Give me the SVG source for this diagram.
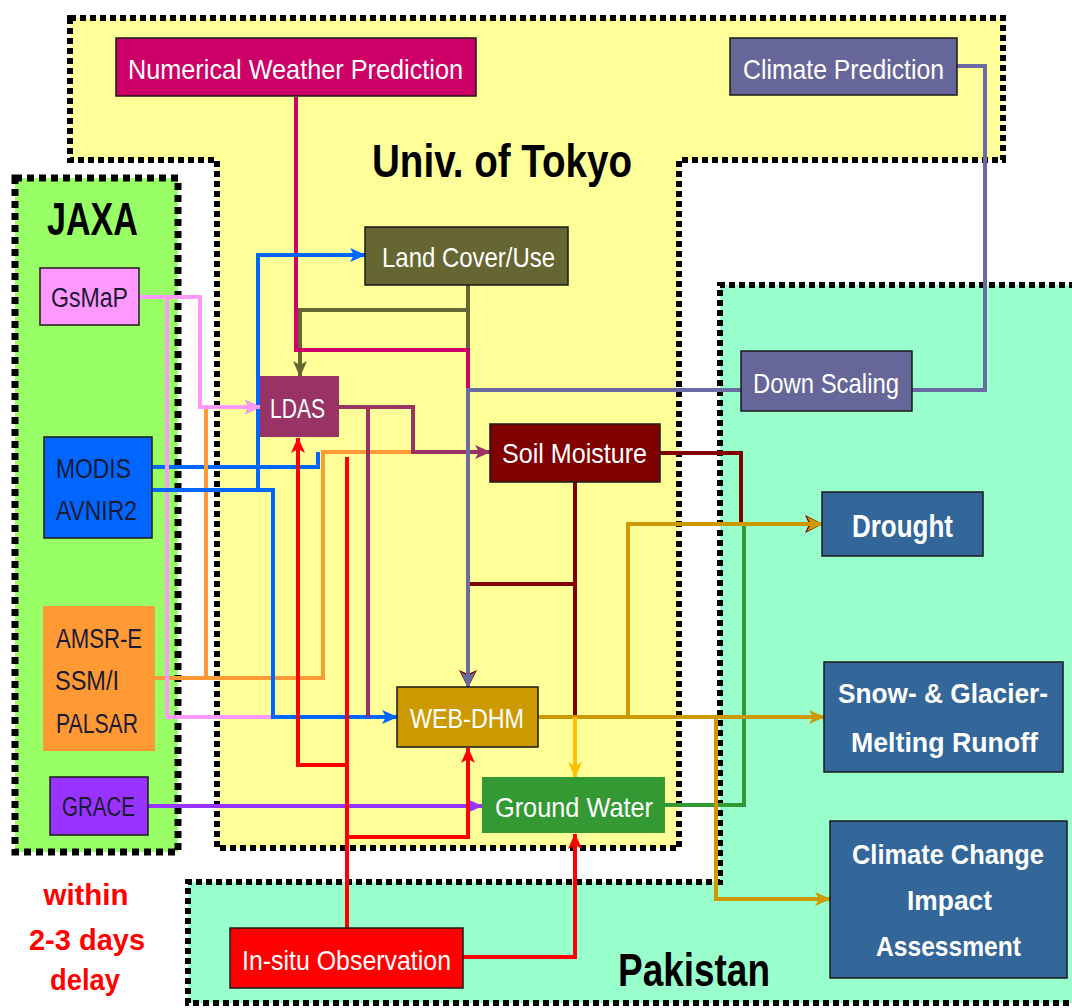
<svg xmlns="http://www.w3.org/2000/svg" width="1072" height="1008" viewBox="0 0 1072 1008">
<style>
.region{stroke:#000;stroke-width:6;stroke-dasharray:6 4;}
.box{stroke:#1a1a1a;stroke-width:1.5;}
.nb{stroke:none;}
.t{font-family:"Liberation Sans",Arial,sans-serif;font-size:28px;fill:#fff;}
.d{fill:#1a1a33;font-size:27px;}
.b{font-weight:bold;}
.title{font-family:"Liberation Sans",Arial,sans-serif;font-weight:bold;font-size:46px;fill:#000;}
.red{font-family:"Liberation Sans",Arial,sans-serif;font-weight:bold;font-size:30px;fill:#ff0000;text-anchor:middle;}
.c{fill:none;stroke-width:4;stroke-linejoin:miter;stroke-linecap:butt;}
</style>
<defs>
<marker id="aBlue" markerUnits="userSpaceOnUse" markerWidth="16" markerHeight="16" refX="15" refY="8" orient="auto"><path d="M0,1 L16,8 L0,15 L4,8 z" fill="#0066ff"/></marker>
<marker id="aPink" markerUnits="userSpaceOnUse" markerWidth="16" markerHeight="16" refX="15" refY="8" orient="auto"><path d="M0,1 L16,8 L0,15 L4,8 z" fill="#ff99ff"/></marker>
<marker id="aOlive" markerUnits="userSpaceOnUse" markerWidth="16" markerHeight="16" refX="15" refY="8" orient="auto"><path d="M0,1 L16,8 L0,15 L4,8 z" fill="#666633"/></marker>
<marker id="aGrey" markerUnits="userSpaceOnUse" markerWidth="16" markerHeight="16" refX="15" refY="8" orient="auto"><path d="M0,1 L16,8 L0,15 L4,8 z" fill="#6b6ba3"/></marker>
<marker id="aDark" markerUnits="userSpaceOnUse" markerWidth="18" markerHeight="18" refX="17" refY="9" orient="auto"><path d="M0,0 L18,9 L0,18 L4,9 z" fill="#800000"/></marker>
<marker id="aGold" markerUnits="userSpaceOnUse" markerWidth="16" markerHeight="16" refX="15" refY="8" orient="auto"><path d="M0,1 L16,8 L0,15 L4,8 z" fill="#cc9900"/></marker>
<marker id="aYel" markerUnits="userSpaceOnUse" markerWidth="16" markerHeight="16" refX="15" refY="8" orient="auto"><path d="M0,1 L16,8 L0,15 L4,8 z" fill="#ffc000"/></marker>
<marker id="aRed" markerUnits="userSpaceOnUse" markerWidth="16" markerHeight="16" refX="15" refY="8" orient="auto"><path d="M0,1 L16,8 L0,15 L4,8 z" fill="#ff0000"/></marker>
<marker id="aPurp" markerUnits="userSpaceOnUse" markerWidth="16" markerHeight="16" refX="15" refY="8" orient="auto"><path d="M0,1 L16,8 L0,15 L4,8 z" fill="#993366"/></marker>
<marker id="aViol" markerUnits="userSpaceOnUse" markerWidth="16" markerHeight="16" refX="15" refY="8" orient="auto"><path d="M0,1 L16,8 L0,15 L4,8 z" fill="#9933ff"/></marker>
</defs>
<rect width="1072" height="1008" fill="#fff"/>

<g id="regions">
<g id="tokyo">
<path d="M70,18 H1003 V160 H679 V848 H217 V160 H70 Z" fill="#ffff99" class="region"/>
<text class="title" x="372" y="177" textLength="260" lengthAdjust="spacingAndGlyphs">Univ. of Tokyo</text>
</g>
<g id="pakistan">
<path d="M1075,285 H720 V882 H188 V1003 H1075 Z" fill="#99ffcc" stroke="none"/>
<path d="M1075,285 H720 V882 H188 V1003 H1075" fill="none" class="region"/>
<text class="title" x="618" y="986" textLength="152" lengthAdjust="spacingAndGlyphs">Pakistan</text>
</g>
<g id="jaxa">
<rect x="15" y="178" width="163" height="674" fill="#99ff66" stroke="#000" stroke-width="7" stroke-dasharray="7 5"/>
<text class="title" x="47" y="235" textLength="91" lengthAdjust="spacingAndGlyphs">JAXA</text>
</g>
</g>

<g id="connectors">
<path class="c" stroke="#666633" d="M468,285 V350 M468,310 H300 V376" marker-end="url(#aOlive)"/>
<path class="c" stroke="#cc0066" d="M296,97 V350 H468 V390"/>
<path class="c" stroke="#6b6ba3" d="M957,66 H985 V390 H912"/>
<path class="c" stroke="#800000" stroke-width="3.5" d="M575,482 V716"/>
<path class="c" stroke="#800000" stroke-width="3.5" d="M575,584 H468 V687" marker-end="url(#aDark)"/>
<path class="c" stroke="#800000" stroke-width="3.5" d="M660,453 H741 V524 H822" marker-end="url(#aDark)"/>
<path class="c" stroke="#339933" d="M665,805 H744 V526"/>
<path class="c" stroke="#cc9900" d="M538,717 H824" marker-end="url(#aGold)"/>
<path class="c" stroke="#cc9900" d="M628,717 V524 H822" marker-end="url(#aGold)"/>
<path class="c" stroke="#cc9900" d="M716,717 V899 H830" marker-end="url(#aGold)"/>
<path class="c" stroke="#ffc000" d="M575,717 V777" marker-end="url(#aYel)"/>
<path class="c" stroke="#0066ff" d="M152,467 H318 V452"/>
<path class="c" stroke="#0066ff" d="M258,490 V255 H365" marker-end="url(#aBlue)"/>
<path class="c" stroke="#0066ff" d="M240,407 H260" marker-end="url(#aBlue)"/>
<path class="c" stroke="#ff9933" d="M155,678 H323 V452 H414 M206,678 V409"/>
<path class="c" stroke="#ff99ff" stroke-width="5" d="M139,297 H200 V407 H260" marker-end="url(#aPink)"/>
<path class="c" stroke="#ff99ff" d="M139,297 H167 V717 H275"/>
<path class="c" stroke="#0066ff" d="M152,490 H273 V717 H397" marker-end="url(#aBlue)"/>
<path class="c" stroke="#993366" d="M339,407 H413 V452 H490" marker-end="url(#aPurp)"/>
<path class="c" stroke="#993366" d="M368,407 V717"/>
<path class="c" stroke="#6b6ba3" d="M741,390 H468 V687" marker-end="url(#aGrey)"/>
<path class="c" stroke="#9933ff" d="M148,806 H482" marker-end="url(#aViol)"/>
<path class="c" stroke="#ff0000" d="M347,928 V457"/>
<path class="c" stroke="#ff0000" d="M347,765 H298 V438" marker-end="url(#aRed)"/>
<path class="c" stroke="#ff0000" d="M347,837 H468 V748" marker-end="url(#aRed)"/>
<path class="c" stroke="#ff0000" d="M463,957 H575 V834" marker-end="url(#aRed)"/>
</g>

<g id="nwp"><rect class="box" x="116" y="38" width="360" height="58" fill="#cc0066"/><text class="t" x="128" y="79" textLength="335" lengthAdjust="spacingAndGlyphs">Numerical Weather Prediction</text></g>
<g id="climate-prediction"><rect class="box" x="730" y="38" width="227" height="57" fill="#666699"/><text class="t" x="743" y="79" textLength="201" lengthAdjust="spacingAndGlyphs">Climate Prediction</text></g>
<g id="land-cover"><rect class="box" x="365" y="227" width="203" height="58" fill="#666633"/><text class="t" x="382" y="267" textLength="173" lengthAdjust="spacingAndGlyphs">Land Cover/Use</text></g>
<g id="ldas"><rect class="nb" x="260" y="376" width="79" height="61" fill="#993366"/><text class="t" x="270" y="418" textLength="55" lengthAdjust="spacingAndGlyphs">LDAS</text></g>
<g id="soil-moisture"><rect class="box" x="490" y="424" width="170" height="58" fill="#800000"/><text class="t" x="502" y="463" textLength="145" lengthAdjust="spacingAndGlyphs">Soil Moisture</text></g>
<g id="down-scaling"><rect class="box" x="741" y="351" width="171" height="60" fill="#666699"/><text class="t" x="753" y="393" textLength="146" lengthAdjust="spacingAndGlyphs">Down Scaling</text></g>
<g id="drought"><rect class="box" x="822" y="492" width="161" height="64" fill="#336699"/><text class="t b" style="font-size:32px" x="852" y="537" textLength="101" lengthAdjust="spacingAndGlyphs">Drought</text></g>
<g id="web-dhm"><rect class="box" x="397" y="687" width="141" height="60" fill="#cc9900"/><text class="t" x="410" y="728" textLength="114" lengthAdjust="spacingAndGlyphs">WEB-DHM</text></g>
<g id="ground-water"><rect class="nb" x="482" y="777" width="183" height="56" fill="#339933"/><text class="t" x="495" y="817" textLength="158" lengthAdjust="spacingAndGlyphs">Ground Water</text></g>
<g id="snow-glacier"><rect class="box" x="824" y="662" width="239" height="110" fill="#336699"/><text class="t b" x="838" y="703" textLength="210" lengthAdjust="spacingAndGlyphs">Snow- &amp; Glacier-</text><text class="t b" x="851" y="752" textLength="187" lengthAdjust="spacingAndGlyphs">Melting Runoff</text></g>
<g id="climate-change"><rect class="box" x="830" y="821" width="237" height="157" fill="#336699"/><text class="t b" style="font-size:27px" x="852" y="864" textLength="192" lengthAdjust="spacingAndGlyphs">Climate Change</text><text class="t b" style="font-size:28px" x="907" y="910" textLength="85" lengthAdjust="spacingAndGlyphs">Impact</text><text class="t b" style="font-size:28px" x="876" y="956" textLength="145" lengthAdjust="spacingAndGlyphs">Assessment</text></g>
<g id="in-situ"><rect class="box" x="230" y="928" width="233" height="60" fill="#ff0000"/><text class="t" x="242" y="970" textLength="209" lengthAdjust="spacingAndGlyphs">In-situ Observation</text></g>
<g id="gsmap"><rect class="box" x="40" y="268" width="99" height="57" fill="#ff99ff"/><text class="t d" x="51" y="307" textLength="77" lengthAdjust="spacingAndGlyphs">GsMaP</text></g>
<g id="modis"><rect class="box" x="44" y="437" width="108" height="101" fill="#0066ff"/><text class="t d" x="56" y="478" textLength="75" lengthAdjust="spacingAndGlyphs">MODIS</text><text class="t d" x="56" y="520" textLength="81" lengthAdjust="spacingAndGlyphs">AVNIR2</text></g>
<g id="amsr"><rect class="nb" x="43" y="606" width="112" height="145" fill="#ff9933"/><text class="t d" x="56" y="648" textLength="86" lengthAdjust="spacingAndGlyphs">AMSR-E</text><text class="t d" x="55" y="690" textLength="64" lengthAdjust="spacingAndGlyphs">SSM/I</text><text class="t d" x="56" y="733" textLength="82" lengthAdjust="spacingAndGlyphs">PALSAR</text></g>
<g id="grace"><rect class="box" x="50" y="777" width="98" height="58" fill="#9933ff"/><text class="t d" x="62" y="816" textLength="73" lengthAdjust="spacingAndGlyphs">GRACE</text></g>

<g id="delay-note">
<text class="red" x="86" y="905" textLength="85" lengthAdjust="spacingAndGlyphs">within</text>
<text class="red" x="87" y="950" textLength="116" lengthAdjust="spacingAndGlyphs">2-3 days</text>
<text class="red" x="85" y="990" textLength="70" lengthAdjust="spacingAndGlyphs">delay</text>
</g>
</svg>
